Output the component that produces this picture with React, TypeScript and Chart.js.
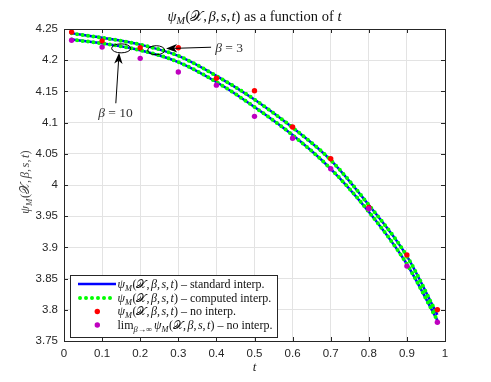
import React, { useEffect, useRef } from "react";
import { Chart, registerables } from "chart.js";

Chart.register(...registerables);

// ---------- data ----------
const tValues = [0.02, 0.1, 0.2, 0.3, 0.4, 0.5, 0.6, 0.7, 0.8, 0.9, 0.98];
const curveBeta3 = [4.243, 4.236, 4.225, 4.207, 4.175, 4.137, 4.092, 4.04, 3.968, 3.886, 3.792];
const curveBeta10 = [4.233, 4.227, 4.216, 4.197, 4.165, 4.125, 4.08, 4.026, 3.957, 3.873, 3.783];
const pointsNoInterp = [4.245, 4.231, 4.22, 4.22, 4.171, 4.151, 4.093, 4.042, 3.964, 3.888, 3.8];
const pointsLimit = [4.232, 4.221, 4.203, 4.181, 4.16, 4.11, 4.075, 4.026, 3.962, 3.87, 3.78];
const xTicks = [0, 0.1, 0.2, 0.3, 0.4, 0.5, 0.6, 0.7, 0.8, 0.9, 1];
const yTicks = [3.75, 3.8, 3.85, 3.9, 3.95, 4, 4.05, 4.1, 4.15, 4.2, 4.25];

// annotation anchors in data units
const ellipseBeta10 = [0.15, 4.219];
const ellipseBeta3 = [0.242, 4.216];
const arrowBeta3 = [0.386, 4.2208, 0.268, 4.2186];
const arrowBeta10 = [0.136, 4.131, 0.1446, 4.212];
const labelBeta3 = [0.397, 4.22];
const labelBeta10 = [0.135, 4.1167];

// ---------- rich text helpers ----------
type Seg = { s: string; it?: boolean; sub?: boolean; sp?: number };
const SERIF = '"Liberation Serif", "DejaVu Serif", serif';
const SANS = '"Liberation Sans", Arial, sans-serif';

function segFont(g: Seg, size: number) {
  const sz = g.sub ? size * 0.7 : size;
  return `${g.it ? "italic " : ""}${sz}px ${SERIF}`;
}
function measureRich(ctx: CanvasRenderingContext2D, segs: Seg[], size: number) {
  let w = 0;
  for (const g of segs) {
    ctx.font = segFont(g, size);
    w += ctx.measureText(g.s).width + (g.sp || 0);
  }
  return w;
}
function drawRich(
  ctx: CanvasRenderingContext2D,
  segs: Seg[],
  x: number,
  yMid: number,
  size: number,
  align: "left" | "center",
  color: string
) {
  const w = measureRich(ctx, segs, size);
  let cx = align === "center" ? x - w / 2 : x;
  const base = yMid + size * 0.33;
  ctx.fillStyle = color;
  ctx.textAlign = "left";
  ctx.textBaseline = "alphabetic";
  for (const g of segs) {
    ctx.font = segFont(g, size);
    ctx.fillText(g.s, cx, base + (g.sub ? size * 0.22 : 0));
    cx += ctx.measureText(g.s).width + (g.sp || 0);
  }
}

const PSI: Seg[] = [
  { s: "ψ", it: true },
  { s: "M", it: true, sub: true, sp: 0.5 },
  { s: "(" },
  { s: "𝒳" },
  { s: ",", sp: 1.5 },
  { s: "β", it: true },
  { s: ",", sp: 1.5 },
  { s: "s", it: true },
  { s: ",", sp: 1.5 },
  { s: "t", it: true },
  { s: ")" },
];

function drawArrow(ctx: CanvasRenderingContext2D, x1: number, y1: number, x2: number, y2: number) {
  const ang = Math.atan2(y2 - y1, x2 - x1);
  const L = 11, W = 4.2, back = 8;
  ctx.beginPath();
  ctx.moveTo(x1, y1);
  ctx.lineTo(x2 - Math.cos(ang) * back, y2 - Math.sin(ang) * back);
  ctx.stroke();
  ctx.save();
  ctx.translate(x2, y2);
  ctx.rotate(ang);
  ctx.beginPath();
  ctx.moveTo(0, 0);
  ctx.lineTo(-L, -W);
  ctx.lineTo(-back, 0);
  ctx.lineTo(-L, W);
  ctx.closePath();
  ctx.fill();
  ctx.restore();
}

const BLUE = "#0000ff";
const GREEN = "#00ff00";
const RED = "#ff0000";
const MAGENTA = "#bf00bf";
const AXIS = "#262626";

const decorPlugin = {
  id: "decor",
  afterDraw(chart: any) {
    const ctx: CanvasRenderingContext2D = chart.ctx;
    const { left, right, top, bottom } = chart.chartArea;
    const xs = chart.scales.x;
    const ys = chart.scales.y;
    const px = (t: number) => xs.getPixelForValue(t);
    const py = (v: number) => ys.getPixelForValue(v);
    ctx.save();

    // box + inward ticks
    ctx.strokeStyle = AXIS;
    ctx.lineWidth = 1;
    ctx.strokeRect(Math.round(left) + 0.5, Math.round(top) + 0.5, Math.round(right - left), Math.round(bottom - top));
    ctx.beginPath();
    for (const t of xTicks) {
      const x = Math.round(px(t)) + 0.5;
      ctx.moveTo(x, bottom); ctx.lineTo(x, bottom - 4);
      ctx.moveTo(x, top); ctx.lineTo(x, top + 4);
    }
    for (const v of yTicks) {
      const y = Math.round(py(v)) + 0.5;
      ctx.moveTo(left, y); ctx.lineTo(left + 4, y);
      ctx.moveTo(right, y); ctx.lineTo(right - 4, y);
    }
    ctx.stroke();

    // title
    drawRich(ctx, [...PSI, { s: " as a function of " }, { s: "t", it: true }], (left + right) / 2, 16, 14.5, "center", "#111");
    // x label
    drawRich(ctx, [{ s: "t", it: true }], (left + right) / 2, 367, 13, "center", AXIS);
    // y label
    ctx.save();
    ctx.translate(25, (top + bottom) / 2 - 3);
    ctx.rotate(-Math.PI / 2);
    drawRich(ctx, PSI, 0, 0, 12.5, "center", "#444");
    ctx.restore();

    // annotations
    ctx.strokeStyle = "#000";
    ctx.fillStyle = "#000";
    ctx.lineWidth = 1;
    ctx.beginPath();
    ctx.ellipse(px(ellipseBeta10[0]), py(ellipseBeta10[1]), 9.5, 4.5, 0, 0, Math.PI * 2);
    ctx.stroke();
    ctx.beginPath();
    ctx.ellipse(px(ellipseBeta3[0]), py(ellipseBeta3[1]), 8.5, 4.5, 0, 0, Math.PI * 2);
    ctx.stroke();
    drawArrow(ctx, px(arrowBeta3[0]), py(arrowBeta3[1]), px(arrowBeta3[2]), py(arrowBeta3[3]));
    drawArrow(ctx, px(arrowBeta10[0]), py(arrowBeta10[1]), px(arrowBeta10[2]), py(arrowBeta10[3]));
    drawRich(ctx, [{ s: "β", it: true }, { s: " = 3" }], px(labelBeta3[0]), py(labelBeta3[1]), 13.5, "left", "#333");
    drawRich(ctx, [{ s: "β", it: true }, { s: " = 10" }], px(labelBeta10[0]), py(labelBeta10[1]), 13.5, "center", "#333");

    // legend
    const lx0 = 70, lx1 = 277, ly0 = 275, ly1 = 337;
    ctx.fillStyle = "#fff";
    ctx.fillRect(lx0, ly0, lx1 - lx0, ly1 - ly0);
    ctx.strokeStyle = AXIS;
    ctx.lineWidth = 1;
    ctx.strokeRect(lx0 + 0.5, ly0 + 0.5, lx1 - lx0, ly1 - ly0);
    const rows = [284, 298, 311.5, 325];
    const sx0 = 78, sx1 = 116, tx = 117.5, fs = 12;
    // row 1: blue line
    ctx.strokeStyle = BLUE;
    ctx.lineWidth = 2.5;
    ctx.setLineDash([]);
    ctx.beginPath(); ctx.moveTo(sx0, rows[0]); ctx.lineTo(sx1, rows[0]); ctx.stroke();
    // row 2: green dots
    ctx.strokeStyle = GREEN;
    ctx.lineWidth = 4;
    ctx.lineCap = "round";
    ctx.setLineDash([0, 6]);
    ctx.beginPath(); ctx.moveTo(sx0 + 2, rows[1]); ctx.lineTo(sx1, rows[1]); ctx.stroke();
    ctx.setLineDash([]);
    ctx.lineCap = "butt";
    // rows 3,4: markers
    ctx.fillStyle = RED;
    ctx.beginPath(); ctx.arc(97.3, rows[2], 2.7, 0, Math.PI * 2); ctx.fill();
    ctx.fillStyle = MAGENTA;
    ctx.beginPath(); ctx.arc(97.3, rows[3], 2.7, 0, Math.PI * 2); ctx.fill();

    drawRich(ctx, [...PSI, { s: " – standard interp." }], tx, rows[0], fs, "left", "#111");
    drawRich(ctx, [...PSI, { s: " – computed interp." }], tx, rows[1], fs, "left", "#111");
    drawRich(ctx, [...PSI, { s: " – no interp." }], tx, rows[2], fs, "left", "#111");
    drawRich(
      ctx,
      [{ s: "lim" }, { s: "β→∞", it: true, sub: true, sp: 2 }, ...PSI, { s: " – no interp." }],
      tx, rows[3], fs, "left", "#111"
    );

    ctx.restore();
  },
};

export default function App() {
  const ref = useRef<HTMLCanvasElement | null>(null);
  useEffect(() => {
    if (!ref.current) return;
    const mk = (arr: number[]) => tValues.map((t, i) => ({ x: t, y: arr[i] }));
    const chart = new Chart(ref.current, {
      type: "line",
      data: {
        datasets: [
          {
            label: "no interp.",
            data: mk(pointsNoInterp),
            showLine: false,
            pointRadius: 2.7,
            pointBackgroundColor: RED,
            pointBorderWidth: 0,
            borderColor: RED,
            order: 1,
          },
          {
            label: "limit no interp.",
            data: mk(pointsLimit),
            showLine: false,
            pointRadius: 2.7,
            pointBackgroundColor: MAGENTA,
            pointBorderWidth: 0,
            borderColor: MAGENTA,
            order: 0,
          },
          {
            label: "computed β=3",
            data: mk(curveBeta3),
            borderColor: GREEN,
            borderWidth: 4,
            borderDash: [0, 5.5],
            borderCapStyle: "round",
            pointRadius: 0,
            cubicInterpolationMode: "monotone",
            order: 2,
          },
          {
            label: "computed β=10",
            data: mk(curveBeta10),
            borderColor: GREEN,
            borderWidth: 4,
            borderDash: [0, 5.5],
            borderCapStyle: "round",
            pointRadius: 0,
            cubicInterpolationMode: "monotone",
            order: 2,
          },
          {
            label: "standard β=3",
            data: mk(curveBeta3),
            borderColor: BLUE,
            borderWidth: 2.5,
            pointRadius: 0,
            cubicInterpolationMode: "monotone",
            order: 3,
          },
          {
            label: "standard β=10",
            data: mk(curveBeta10),
            borderColor: BLUE,
            borderWidth: 2.5,
            pointRadius: 0,
            cubicInterpolationMode: "monotone",
            order: 3,
          },
        ],
      },
      options: {
        animation: false,
        responsive: false,
        layout: { padding: { left: 0, top: 29, right: 46, bottom: 0 } },
        plugins: { legend: { display: false }, tooltip: { enabled: false }, title: { display: false } },
        scales: {
          x: {
            type: "linear",
            min: 0,
            max: 1,
            afterBuildTicks: (s: any) => { s.ticks = xTicks.map((v) => ({ value: v })); },
            afterFit: (s: any) => { s.height = 41; },
            ticks: {
              callback: (v: any) => String(+Number(v).toFixed(2)),
              color: AXIS,
              font: { family: SANS, size: 11.5 },
              padding: 6,
              maxRotation: 0,
            },
            grid: { color: "#e3e3e3", drawTicks: false, lineWidth: 1 },
            border: { display: false },
          },
          y: {
            type: "linear",
            min: 3.75,
            max: 4.25,
            afterBuildTicks: (s: any) => { s.ticks = yTicks.map((v) => ({ value: v })); },
            afterFit: (s: any) => { s.width = 64; },
            ticks: {
              callback: (v: any) => String(+Number(v).toFixed(2)),
              color: AXIS,
              font: { family: SANS, size: 11.5 },
              padding: 6,
            },
            grid: { color: "#e3e3e3", drawTicks: false, lineWidth: 1 },
            border: { display: false },
          },
        },
      } as any,
      plugins: [decorPlugin],
    });
    return () => chart.destroy();
  }, []);
  return (
    <div style={{ position: "fixed", left: 0, top: 0, width: 491, height: 382, background: "#fff" }}>
      <canvas ref={ref} width={491} height={382} style={{ display: "block" }} />
    </div>
  );
}
